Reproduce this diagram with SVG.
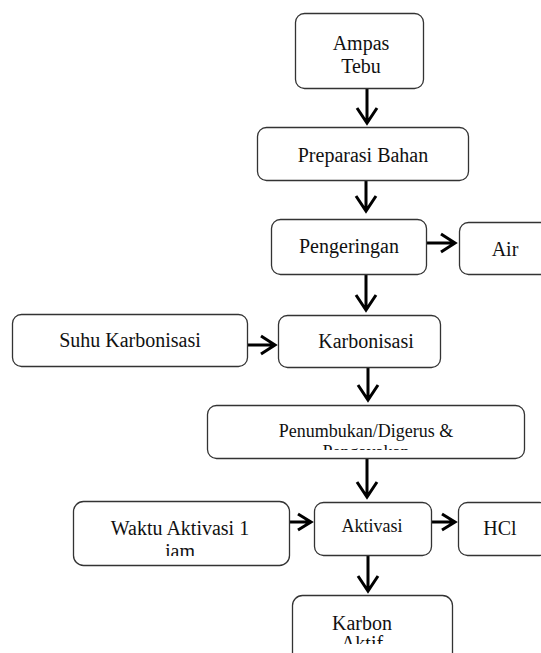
<svg xmlns="http://www.w3.org/2000/svg" width="541" height="653" viewBox="0 0 541 653">
<style>
.box{fill:#fff;stroke:#333;stroke-width:1.3}
.t{font-family:"Liberation Serif","Times New Roman",serif;font-size:20px;fill:#111;text-anchor:middle}
.s{font-size:18px}
.c{fill:none;stroke:#000;stroke-width:3;stroke-linejoin:miter}
</style>
<defs>
<clipPath id="cpP"><rect x="207" y="405" width="317" height="45"/></clipPath>
<clipPath id="cpW"><rect x="73" y="501" width="216" height="55"/></clipPath>
<clipPath id="cpK"><rect x="292" y="595" width="160" height="49"/></clipPath>
</defs>
<rect width="541" height="653" fill="#fff"/>
<g id="connectors">
<path class="c" d="M367 89V123M357 108L367 123L377 108"/>
<path class="c" d="M366 180V211M356 196L366 211L376 196"/>
<path class="c" d="M366 274V310M356 295L366 310L376 295"/>
<path class="c" d="M368 367V400M358 385L368 400L378 385"/>
<path class="c" d="M367 458V497M357 482L367 497L377 482"/>
<path class="c" d="M368 555V591M358 576L368 591L378 576"/>
<path class="c" d="M427 243H455M441 234L455 243L441 252"/>
<path class="c" d="M247 345H275M261 336L275 345L261 354"/>
<path class="c" d="M290 522H311M298 514L311 522L298 530"/>
<path class="c" d="M432 522H455M442 514L455 522L442 530"/>
</g>
<g id="ampas">
<rect class="box" x="295.5" y="13.5" width="128" height="75" rx="9"/>
<text class="t" x="361" y="50">Ampas</text>
<text class="t" x="361" y="73">Tebu</text>
</g>
<g id="preparasi">
<rect class="box" x="257.5" y="127.5" width="211" height="53" rx="9"/>
<text class="t" x="363" y="162">Preparasi Bahan</text>
</g>
<g id="pengeringan">
<rect class="box" x="271.5" y="219.5" width="155" height="55" rx="9"/>
<text class="t" x="349" y="253">Pengeringan</text>
</g>
<g id="air">
<rect class="box" x="459.5" y="222.5" width="90" height="52" rx="9"/>
<text class="t" x="505" y="256">Air</text>
</g>
<g id="suhu">
<rect class="box" x="12.5" y="314.5" width="235" height="52" rx="9"/>
<text class="t" x="130" y="347">Suhu Karbonisasi</text>
</g>
<g id="karbonisasi">
<rect class="box" x="278.5" y="315.5" width="162" height="52" rx="9"/>
<text class="t" x="366" y="348">Karbonisasi</text>
</g>
<g id="penumbukan">
<rect class="box" x="207.5" y="405.5" width="317" height="53" rx="9"/>
<text class="t s" x="366" y="437">Penumbukan/Digerus &amp;</text>
<text class="t s" x="366" y="458" clip-path="url(#cpP)">Pengayakan</text>
</g>
<g id="waktu">
<rect class="box" x="73.5" y="501.5" width="216" height="64" rx="10"/>
<text class="t" x="180" y="535">Waktu Aktivasi 1</text>
<text class="t" x="180" y="558" clip-path="url(#cpW)">jam</text>
</g>
<g id="aktivasi">
<rect class="box" x="314.5" y="502.5" width="117" height="53" rx="9"/>
<text class="t s" x="372" y="532">Aktivasi</text>
</g>
<g id="hcl">
<rect class="box" x="458.5" y="502.5" width="90" height="53" rx="9"/>
<text class="t" x="500" y="535">HCl</text>
</g>
<g id="karbon">
<rect class="box" x="292.5" y="595.5" width="160" height="70" rx="10"/>
<text class="t" x="362" y="630">Karbon</text>
<text class="t" x="362" y="650" clip-path="url(#cpK)">Aktif</text>
</g>
</svg>
